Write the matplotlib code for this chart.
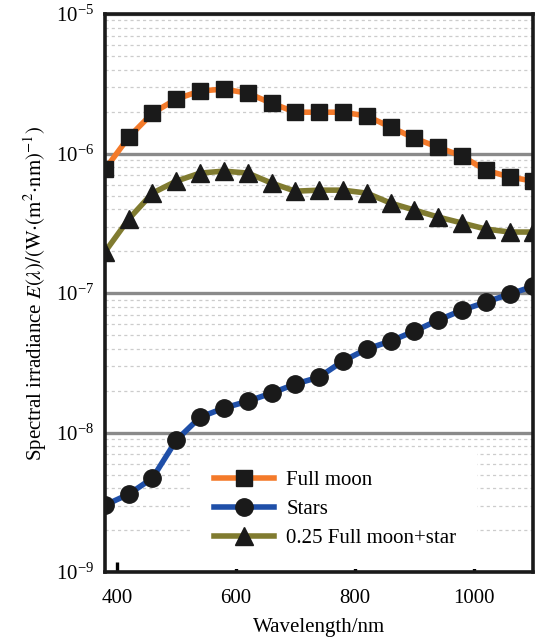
import matplotlib
matplotlib.use('Agg')
import matplotlib.pyplot as plt
from matplotlib.ticker import LogLocator, NullFormatter

plt.rcParams['font.family'] = ['Liberation Serif', 'DejaVu Serif']
plt.rcParams['mathtext.fontset'] = 'stix'

# wavelength grid (nm)
wavelength = [380, 420, 460, 500, 540, 580, 620, 660, 700, 740,
              780, 820, 860, 900, 940, 980, 1020, 1060, 1100]

# spectral irradiance, W/(m2 nm)
full_moon = [7.7e-7, 1.31e-6, 1.95e-6, 2.46e-6, 2.81e-6, 2.90e-6, 2.71e-6, 2.30e-6, 1.98e-6, 1.98e-6,
             1.98e-6, 1.86e-6, 1.55e-6, 1.29e-6, 1.11e-6, 9.6e-7, 7.6e-7, 6.8e-7, 6.35e-7]
stars = [3.02e-9, 3.62e-9, 4.72e-9, 8.83e-9, 1.29e-8, 1.50e-8, 1.68e-8, 1.92e-8, 2.23e-8, 2.50e-8,
         3.26e-8, 3.97e-8, 4.53e-8, 5.34e-8, 6.40e-8, 7.55e-8, 8.61e-8, 9.84e-8, 1.12e-7]
quarter_moon_star = [1.97e-7, 3.39e-7, 5.21e-7, 6.35e-7, 7.25e-7, 7.49e-7, 7.25e-7, 6.15e-7, 5.38e-7, 5.47e-7,
                     5.47e-7, 5.21e-7, 4.42e-7, 3.94e-7, 3.51e-7, 3.18e-7, 2.88e-7, 2.74e-7, 2.74e-7]

x_ticks = [400, 600, 800, 1000]

fig = plt.figure(figsize=(5.35, 6.4), dpi=100)
ax = fig.add_axes([0.196, 0.106, 0.801, 0.872])

ax.plot(wavelength, full_moon, color='#F47A2A', lw=4, marker='s', ms=11.5,
        mfc='#1a1a1a', mec='#1a1a1a', label='Full moon', zorder=3)
ax.plot(wavelength, stars, color='#1F4FA8', lw=4, marker='o', ms=12.5,
        mfc='#1a1a1a', mec='#1a1a1a', label='Stars', zorder=3)
ax.plot(wavelength, quarter_moon_star, color='#807B30', lw=4, marker='^', ms=13.5,
        mfc='#1a1a1a', mec='#1a1a1a', label='0.25 Full moon+star', zorder=3)

ax.set_yscale('log')
ax.set_ylim(1e-9, 1e-5)
ax.set_xlim(380, 1100)
ax.set_xticks(x_ticks)
ax.yaxis.set_major_locator(LogLocator(base=10, numticks=10))
ax.yaxis.set_minor_locator(LogLocator(base=10, subs=range(2, 10), numticks=20))
ax.yaxis.set_minor_formatter(NullFormatter())

ax.grid(False)
ax.grid(axis='y', which='major', color='#8a8a8a', lw=2.4, zorder=1)
ax.grid(axis='y', which='minor', color='#cccccc', lw=0.9, ls=(0, (2.5, 2.5)), zorder=1)
ax.set_axisbelow(True)

ax.tick_params(axis='x', direction='in', length=7, width=2.4, labelsize=15, pad=12)
ax.tick_params(axis='y', which='both', length=0, labelsize=15, pad=8)
for s in ax.spines.values():
    s.set_linewidth(2.6)
    s.set_color('#1a1a1a')

ax.set_xlabel('Wavelength/nm', fontsize=15, labelpad=7)
ax.set_ylabel(r'Spectral irradiance $E(\lambda)/(\mathrm{W{\cdot}(m^2{\cdot}nm)^{-1}})$', fontsize=15, labelpad=5)

leg = ax.legend(loc='center left', bbox_to_anchor=(0.205, 0.113), fontsize=15,
                frameon=True, facecolor='white', edgecolor='none', framealpha=1,
                fancybox=False, borderpad=1.0, handlelength=2.9, handletextpad=0.6,
                labelspacing=0.45, borderaxespad=0)

plt.savefig('out.png', dpi=100)
